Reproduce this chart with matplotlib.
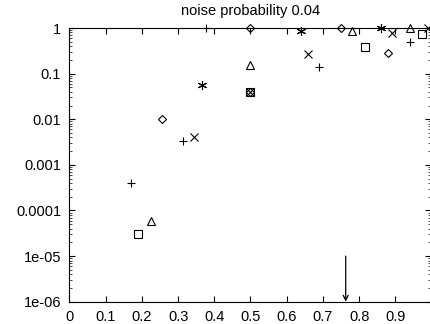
import matplotlib
matplotlib.use("Agg")
import matplotlib.pyplot as plt
from matplotlib.ticker import LogLocator, NullFormatter

plt.rcParams.update({
    "font.family": ["Liberation Sans", "DejaVu Sans"],
    "font.size": 10.5,
})

# data (x, y) per point type
plus_x = [0.17, 0.313, 0.377, 0.69, 0.94]
plus_y = [4e-4, 3.3e-3, 1.0, 0.14, 0.5]
cross_x = [0.343, 0.5, 0.66, 0.89, 0.99]
cross_y = [4e-3, 0.04, 0.27, 0.78, 1.0]
star_x = [0.366, 0.64, 0.86]
star_y = [0.056, 0.85, 1.0]
square_x = [0.19, 0.5, 0.816, 0.975]
square_y = [3e-5, 0.04, 0.39, 0.74]
diamond_x = [0.255, 0.5, 0.5, 0.75, 0.88]
diamond_y = [0.01, 0.98, 0.04, 1.0, 0.28]
triangle_x = [0.225, 0.5, 0.78, 0.94]
triangle_y = [6e-5, 0.155, 0.85, 1.0]

arrow_x = 0.763
arrow_y = (1e-5, 1e-6)

x_ticks = [0, 0.1, 0.2, 0.3, 0.4, 0.5, 0.6, 0.7, 0.8, 0.9]
x_labels = ["0", "0.1", "0.2", "0.3", "0.4", "0.5", "0.6", "0.7", "0.8", "0.9"]
y_ticks = [1, 0.1, 0.01, 0.001, 0.0001, 1e-5, 1e-6]
y_labels = ["1", "0.1", "0.01", "0.001", "0.0001", "1e-05", "1e-06"]

fig = plt.figure(figsize=(4.31, 3.24), dpi=100)
ax = fig.add_axes([69.5 / 431, 22.3 / 324, 362 / 431, 273.7 / 324])

base = dict(linestyle="none", color="black", markeredgewidth=0.8, clip_on=False)
ax.plot(plus_x, plus_y, marker="+", markersize=6, **base)
ax.plot(cross_x, cross_y, marker="x", markersize=5.5, **base)
ax.plot(star_x, star_y, marker=(6, 2, 0), markersize=6.5, **base)
ax.plot(square_x, square_y, marker="s", markerfacecolor="none", markersize=5.5, **base)
ax.plot(diamond_x, diamond_y, marker="D", markerfacecolor="none", markersize=4.5, **base)
ax.plot(triangle_x, triangle_y, marker="^", markerfacecolor="none", markersize=6, **base)

ax.annotate("", xy=(arrow_x, arrow_y[1]), xytext=(arrow_x, arrow_y[0]),
            arrowprops=dict(arrowstyle="->", color="black", lw=0.9,
                            shrinkA=0, shrinkB=0, mutation_scale=9))

ax.set_yscale("log")
ax.set_xlim(0, 1)
ax.set_ylim(1e-6, 1)
ax.set_xticks(x_ticks)
ax.set_xticklabels(x_labels)
ax.set_yticks(y_ticks)
ax.set_yticklabels(y_labels)
ax.yaxis.set_minor_locator(LogLocator(base=10, subs=range(2, 10)))
ax.yaxis.set_minor_formatter(NullFormatter())

ax.tick_params(which="both", direction="in", top=True, right=True, width=0.8,
               labelsize=10.5, pad=6)
ax.tick_params(which="major", length=4)
ax.tick_params(which="minor", length=2, width=0.5)
for s in ax.spines.values():
    s.set_linewidth(0.8)

ax.set_title("noise probability 0.04", fontsize=10.5, pad=9)

fig.savefig("out.png", dpi=100)
